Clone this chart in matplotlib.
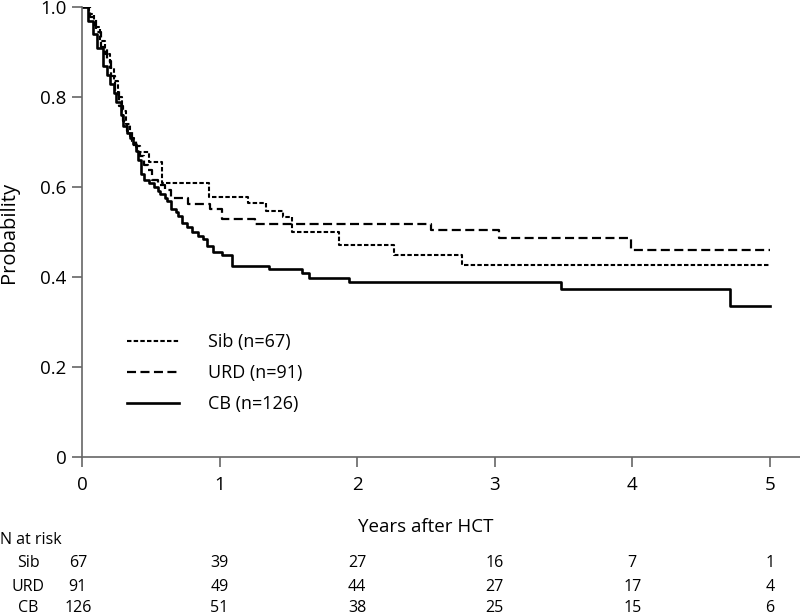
import matplotlib
matplotlib.use('Agg')
import matplotlib.pyplot as plt
from matplotlib.transforms import blended_transform_factory

plt.rcParams['font.family'] = ['Open Sans', 'DejaVu Sans']

# Kaplan-Meier steps (years, probability)
sib_t = [0, 0.05, 0.09, 0.13, 0.17, 0.2, 0.23, 0.26, 0.29, 0.32, 0.35, 0.38, 0.4,
         0.49, 0.58, 0.92, 1.21, 1.34, 1.46, 1.53, 1.87, 2.27, 2.76, 5.0]
sib_s = [1.0, 0.985, 0.955, 0.925, 0.895, 0.865, 0.835, 0.8, 0.77, 0.74, 0.71, 0.69, 0.678,
         0.655, 0.608, 0.578, 0.564, 0.547, 0.533, 0.5, 0.471, 0.449, 0.427, 0.427]

urd_t = [0, 0.06, 0.1, 0.14, 0.18, 0.21, 0.24, 0.27, 0.3, 0.33, 0.36, 0.39, 0.42, 0.45,
         0.48, 0.51, 0.55, 0.6, 0.65, 0.77, 0.93, 1.02, 1.26, 2.54, 3.03, 3.99, 5.0]
urd_s = [1.0, 0.978, 0.945, 0.912, 0.88, 0.846, 0.813, 0.78, 0.747, 0.725, 0.703, 0.692, 0.67, 0.648,
         0.637, 0.615, 0.604, 0.593, 0.575, 0.562, 0.551, 0.529, 0.518, 0.505, 0.487, 0.46, 0.46]

cb_t = [0, 0.04, 0.08, 0.11, 0.15, 0.18, 0.2, 0.23, 0.25, 0.28, 0.3, 0.33, 0.35, 0.37, 0.39,
        0.41, 0.43, 0.45, 0.49, 0.52, 0.55, 0.57, 0.6, 0.62, 0.65, 0.68, 0.7, 0.73, 0.76, 0.8,
        0.84, 0.88, 0.91, 0.95, 1.02, 1.09, 1.36, 1.6, 1.65, 1.94, 3.48, 4.71, 5.0]
cb_s = [1.0, 0.97, 0.94, 0.91, 0.87, 0.85, 0.83, 0.81, 0.79, 0.76, 0.735, 0.72, 0.71, 0.695, 0.68,
        0.66, 0.63, 0.616, 0.608, 0.6, 0.592, 0.585, 0.576, 0.568, 0.552, 0.544, 0.536, 0.52, 0.512, 0.5,
        0.492, 0.484, 0.468, 0.456, 0.448, 0.424, 0.417, 0.409, 0.398, 0.389, 0.373, 0.336, 0.336]

labels = ['Sib (n=67)', 'URD (n=91)', 'CB (n=126)']

# numbers at risk
risk_times = [0, 1, 2, 3, 4, 5]
risk_groups = ['Sib', 'URD', 'CB']
risk_sib = [67, 39, 27, 16, 7, 1]
risk_urd = [91, 49, 44, 27, 17, 4]
risk_cb = [126, 51, 38, 25, 15, 6]

plt.rcParams['lines.scale_dashes'] = False

fig = plt.figure(figsize=(8, 6.15), dpi=100)
ax = fig.add_axes([0.1025, 0.2569, 0.8975, 0.7317])

ax.step(sib_t, sib_s, where='post', color='black', lw=1.5, dashes=(3.2, 1.6), label=labels[0])
ax.step(urd_t, urd_s, where='post', color='black', lw=1.6, dashes=(6.5, 3.2), label=labels[1])
ax.step(cb_t, cb_s, where='post', color='black', lw=1.9, label=labels[2])

ax.set_xlim(0, 5.22)
ax.set_ylim(0, 1.0)
ax.set_xticks([0, 1, 2, 3, 4, 5])
ax.set_yticks([0, 0.2, 0.4, 0.6, 0.8, 1.0])
ax.set_yticklabels(['0', '0.2', '0.4', '0.6', '0.8', '1.0'])
for s in ['top', 'right']:
    ax.spines[s].set_visible(False)
for s in ['left', 'bottom']:
    ax.spines[s].set_color('#666666')
    ax.spines[s].set_linewidth(1.2)
ax.tick_params(colors='#666666', labelcolor='black', length=7, width=1.2, labelsize=13.5)
ax.tick_params(axis='x', pad=7)
ax.tick_params(axis='y', pad=4)

ax.set_ylabel('Probability', fontsize=14.5, labelpad=8)
ax.yaxis.set_label_coords(-0.088, 0.5)
ax.set_xlabel('Years after HCT', fontsize=13.5)
ax.xaxis.set_label_coords(2.5 / 5.22, -0.135)

ax.legend(loc='upper left', bbox_to_anchor=(0.062, 0.275), frameon=False, fontsize=13,
          handlelength=2.9, handletextpad=1.6, labelspacing=0.72, borderpad=0, borderaxespad=0)

# risk table
tr = blended_transform_factory(ax.transData, fig.transFigure)
fig.text(0.0, 1 - 540 / 615, 'N at risk', fontsize=11.5, va='center', ha='left')
rows = [risk_sib, risk_urd, risk_cb]
row_y = [563, 587, 608]
for name, vals, yp in zip(risk_groups, rows, row_y):
    fig.text(28 / 800, 1 - yp / 615, name, fontsize=11.5, va='center', ha='center')
    for t, v in zip(risk_times, vals):
        xt = t - 0.03 if t == 0 else t
        ax.text(xt, 1 - yp / 615, str(v), transform=tr, fontsize=11.5, va='center', ha='center')

fig.savefig('out.png', dpi=100)
